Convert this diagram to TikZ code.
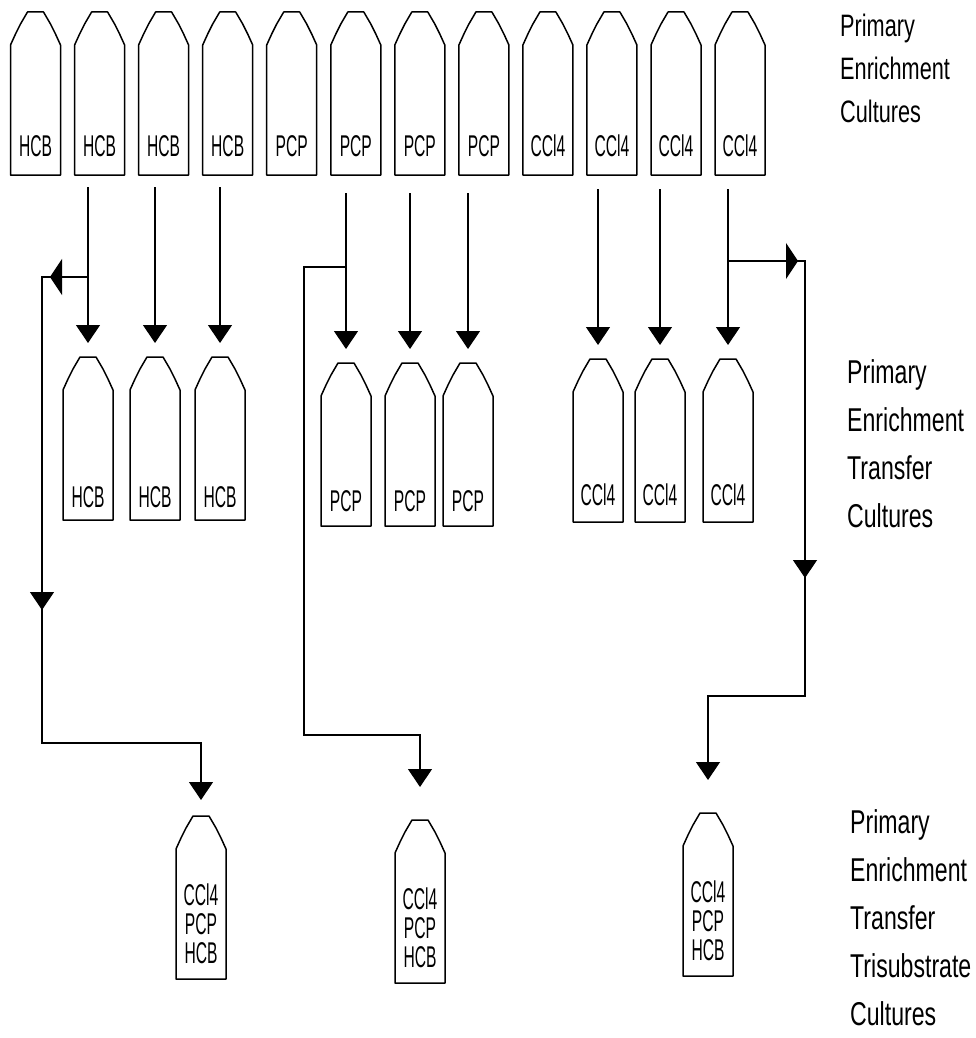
\documentclass[tikz,border=0pt]{standalone}
\usepackage{fontspec}
\usepackage{tikz}
\usetikzlibrary{arrows.meta}
\newfontfamily\tagfont[FakeStretch=0.52]{Liberation Sans}
\newfontfamily\sidefont[FakeStretch=0.7]{Liberation Sans}

\begin{document}
\begin{tikzpicture}[x=1pt, y=-1pt]
    \tikzset{
        vial/.style={line width=1.5pt, line join=round},
        tag/.style={inner sep=0pt, align=center,
            font=\tagfont\fontsize{30}{29}\selectfont},
        sidelabel/.style={anchor=north west, inner sep=0pt, align=left,
            font=\sidefont\fontsize{33}{48}\selectfont},
        link/.style={line width=1.3pt},
        flow/.style={line width=1.3pt, -{Triangle[length=18pt, width=24pt]}},
        sideflow/.style={line width=1.3pt, -{Triangle[length=12pt, width=36pt]}},
        tagy/.store in=\tagy, tagy=134,
        bottle/.pic={
            \draw[vial] (-8,0) -- (-15,12) -- (-20,22) -- (-25,33) -- (-25,163)
                -- (25,163) -- (25,33) -- (20,22) -- (15,12) -- (8,0) -- cycle;
            \coordinate (-tip) at (0,-14);
            \coordinate (-src) at (0,-170);
            \node[tag] (-lbl) at (0,\tagy) {#1};
        }
    }
    \useasboundingbox (0,0) rectangle (976,1038);
    % primary enrichment cultures
    \pic (topA) at (35.5,12) {bottle=HCB};
    \pic (topB) at (99.6,12) {bottle=HCB};
    \pic (topC) at (163.6,12) {bottle=HCB};
    \pic (topD) at (227.7,12) {bottle=HCB};
    \pic (topE) at (291.7,12) {bottle=PCP};
    \pic (topF) at (355.8,12) {bottle=PCP};
    \pic (topG) at (419.8,12) {bottle=PCP};
    \pic (topH) at (483.9,12) {bottle=PCP};
    \pic (topI) at (547.9,12) {bottle=CCl4};
    \pic (topJ) at (611.9,12) {bottle=CCl4};
    \pic (topK) at (676,12) {bottle=CCl4};
    \pic (topL) at (740,12) {bottle=CCl4};
    % transfer cultures
    \pic[tagy=140] (hcbA) at (88,357) {bottle=HCB};
    \pic[tagy=140] (hcbB) at (155,357) {bottle=HCB};
    \pic[tagy=140] (hcbC) at (220,357) {bottle=HCB};
    \pic[tagy=138] (pcpA) at (346,363) {bottle=PCP};
    \pic[tagy=138] (pcpB) at (410,363) {bottle=PCP};
    \pic[tagy=138] (pcpC) at (468,363) {bottle=PCP};
    \pic[tagy=136] (cclA) at (598,359) {bottle=CCl4};
    \pic[tagy=136] (cclB) at (660,359) {bottle=CCl4};
    \pic[tagy=136] (cclC) at (728,359) {bottle=CCl4};
    % trisubstrate cultures
    \pic[tagy=108] (mixA) at (201,816) {bottle={CCl4\\PCP\\HCB}};
    \pic[tagy=108] (mixB) at (420,820) {bottle={CCl4\\PCP\\HCB}};
    \pic[tagy=108] (mixC) at (708,813) {bottle={CCl4\\PCP\\HCB}};

    \draw[flow] (hcbA-src) -- (hcbA-tip);
    \draw[flow] (hcbB-src) -- (hcbB-tip);
    \draw[flow] (hcbC-src) -- (hcbC-tip);
    \draw[flow] (pcpA-src) -- (pcpA-tip);
    \draw[flow] (pcpB-src) -- (pcpB-tip);
    \draw[flow] (pcpC-src) -- (pcpC-tip);
    \draw[flow] (cclA-src) -- (cclA-tip);
    \draw[flow] (cclB-src) -- (cclB-tip);
    \draw[flow] (cclC-src) -- (cclC-tip);

    \coordinate (hcbsplit) at (88,277);
    \coordinate (lefthead) at (50,277);
    \coordinate (leftcorner) at (42,277);
    \coordinate (leftdown) at (42,610);
    \coordinate (leftbend) at (42,743);
    \coordinate (mixAin) at (201,800);
    \draw[flow] (hcbsplit) -- (leftcorner) -- (leftbend) -| (mixAin);
    \draw[sideflow] (hcbsplit) -- (lefthead);
    \draw[flow] (leftcorner) -- (leftdown);

    \coordinate (pcpsplit) at (346,267);
    \coordinate (midcorner) at (304,267);
    \coordinate (midbend) at (304,735);
    \coordinate (mixBin) at (420,787);
    \draw[flow] (pcpsplit) -- (midcorner) -- (midbend) -| (mixBin);

    \coordinate (cclsplit) at (728,261);
    \coordinate (righthead) at (798,261);
    \coordinate (rightcorner) at (805,261);
    \coordinate (rightdown) at (805,578);
    \coordinate (rightbend) at (805,696);
    \coordinate (mixCin) at (708,780);
    \draw[flow] (cclsplit) -- (rightcorner) -- (rightbend) -| (mixCin);
    \draw[sideflow] (cclsplit) -- (righthead);
    \draw[flow] (rightcorner) -- (rightdown);

    \node[sidelabel, font=\sidefont\fontsize{31}{43}\selectfont] (toplabel)
        at (840,14) {Primary\\Enrichment\\Cultures};
    \node[sidelabel] (midlabel) at (847,359)
        {Primary\\Enrichment\\Transfer\\Cultures};
    \node[sidelabel] (lowlabel) at (850,809)
        {Primary\\Enrichment\\Transfer\\Trisubstrate\\Cultures};
\end{tikzpicture}
\end{document}
